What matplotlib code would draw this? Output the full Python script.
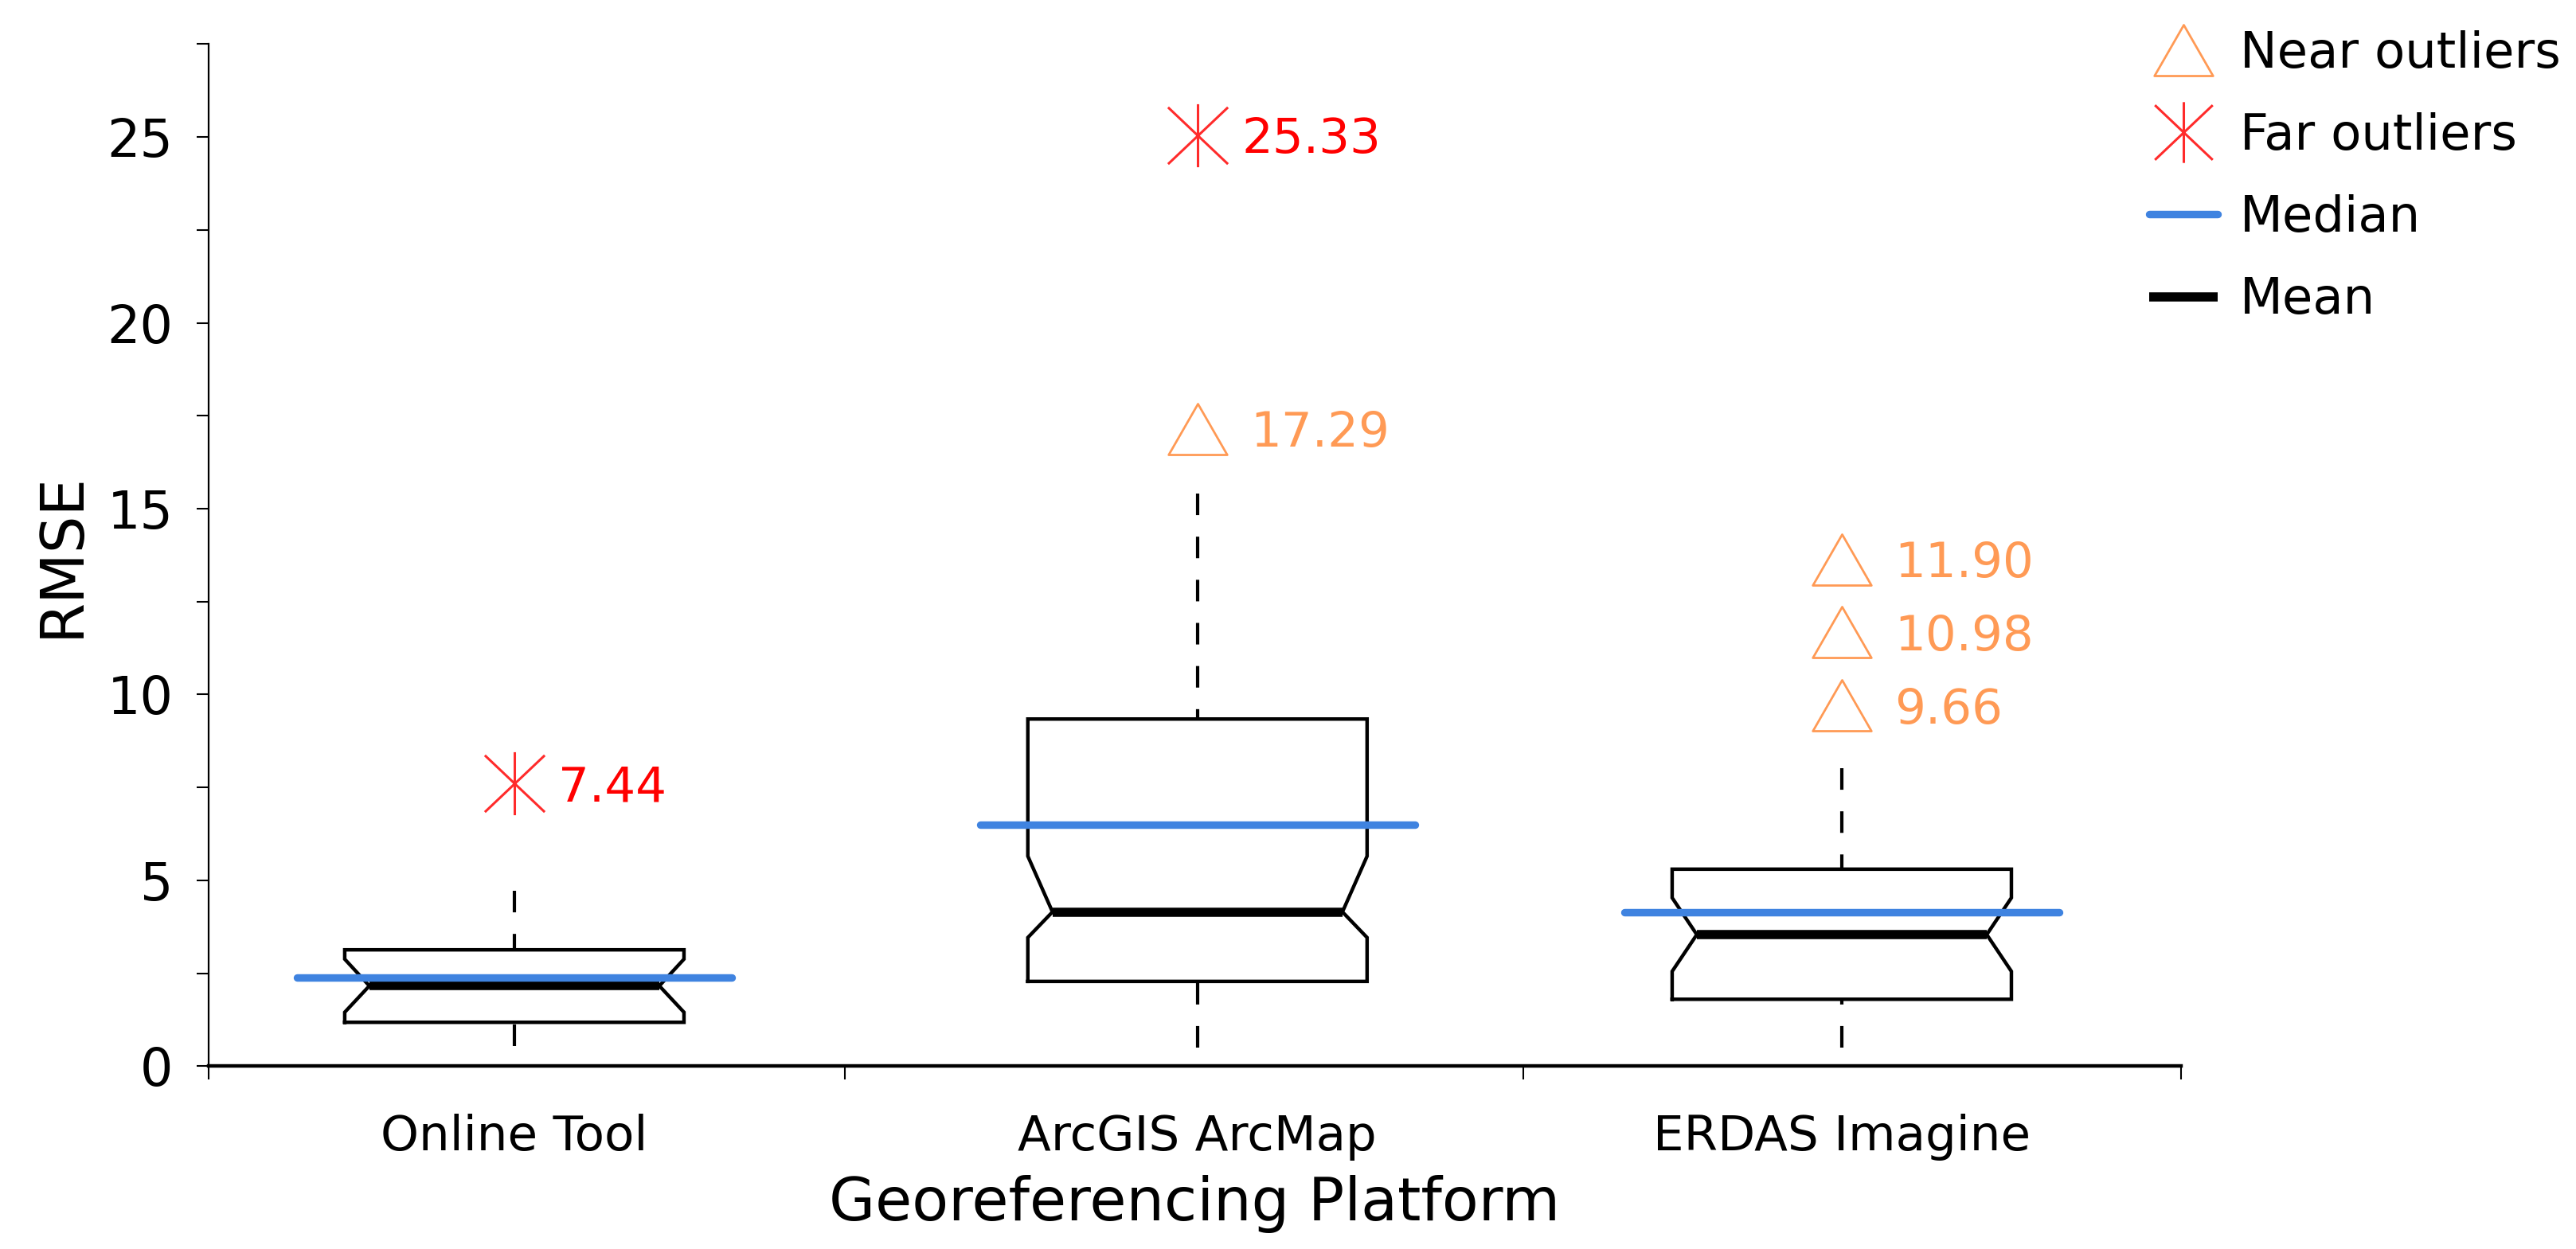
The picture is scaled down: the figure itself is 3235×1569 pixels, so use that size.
import matplotlib
matplotlib.use("Agg")
import matplotlib.pyplot as plt
from matplotlib.path import Path
from matplotlib.lines import Line2D
from matplotlib.ticker import MultipleLocator

# ---------------- data ----------------
categories = ["Online Tool", "ArcGIS ArcMap", "ERDAS Imagine"]
q1 = [1.18, 2.28, 1.80]
q3 = [3.13, 9.34, 5.30]
whisker_low = [0.54, 0.50, 0.50]
whisker_high = [4.71, 15.4, 8.02]
medians = [2.39, 6.49, 4.15]
means = [2.16, 4.15, 3.54]
notch_low = [1.45, 3.46, 2.55]
notch_high = [2.88, 5.65, 4.53]

# near outliers: category index, value, and the y position where the original figure shows it
near_cat = [1, 2, 2, 2]
near_val = [17.29, 9.66, 10.98, 11.90]
near_plot_y = [17.14, 9.70, 11.67, 13.63]
# far outliers
far_cat = [0, 1]
far_val = [7.44, 25.33]
far_plot_y = [7.60, 25.05]

legend_labels = ["Near outliers", "Far outliers", "Median", "Mean"]

# ---------------- style ----------------
W, H = 3235, 1569
DPI = 100
ORANGE = "#ff9a55"
RED_MARK = "#ff2b2b"
RED_TXT = "#ff0000"
BLUE = "#3f83e0"
plt.rcParams["font.family"] = ["DejaVu Sans"]

tri = Path([(-1, -0.87), (1, -0.87), (0, 0.87), (-1, -0.87)], closed=True)
ast = Path([(0, -1), (0, 1), (-0.95, -0.9), (0.95, 0.9), (-0.95, 0.9), (0.95, -0.9)],
           [Path.MOVETO, Path.LINETO, Path.MOVETO, Path.LINETO, Path.MOVETO, Path.LINETO])

fig = plt.figure(figsize=(W / DPI, H / DPI), dpi=DPI)
ax_left, ax_right, ax_bottom, ax_top = 262, 2739, 1339.3, 55.4
ax = fig.add_axes([ax_left / W, (H - ax_bottom) / H,
                   (ax_right - ax_left) / W, (ax_bottom - ax_top) / H])

# layout: category slot centres and separators (as in the original figure)
positions = [0.965, 2.004, 2.984]
separators = [0.5, 1.468, 2.5, 3.5]
half_w = 0.258
notch_w = 0.2205
med_half = 0.331

for i, pos in enumerate(positions):
    xs = [pos - half_w, pos + half_w, pos + half_w, pos + notch_w, pos + half_w,
          pos + half_w, pos - half_w, pos - half_w, pos - notch_w, pos - half_w, pos - half_w]
    ys = [q1[i], q1[i], notch_low[i], means[i], notch_high[i], q3[i], q3[i],
          notch_high[i], means[i], notch_low[i], q1[i]]
    ax.plot(xs, ys, color="black", lw=3.2, solid_joinstyle="miter", zorder=3)
    ax.plot([pos, pos], [whisker_high[i], q3[i]], color="black", lw=3.0,
            linestyle=(0, (6.5, 6.5)), dash_capstyle="butt", zorder=2)
    ax.plot([pos, pos], [whisker_low[i], q1[i]], color="black", lw=3.0,
            linestyle=(0, (6.5, 6.5)), dash_capstyle="butt", zorder=2)
    ax.plot([pos - notch_w, pos + notch_w], [means[i], means[i]], color="black",
            lw=8.3, solid_capstyle="butt", zorder=4)
    ax.plot([pos - med_half, pos + med_half], [medians[i], medians[i]], color=BLUE,
            lw=6.8, solid_capstyle="round", zorder=5)

# outliers
near_x = [positions[c] for c in near_cat]
ax.plot(near_x, near_plot_y, linestyle="none", marker=tri, ms=53, mfc="none",
        mec=ORANGE, mew=2.0, zorder=6)
for x, y, v in zip(near_x, near_plot_y, near_val):
    ax.annotate(f"{v:.2f}", (x, y), xytext=(48, -16), textcoords="offset points",
                ha="left", va="baseline", fontsize=44, color=ORANGE)

far_x = [positions[c] for c in far_cat]
ax.plot(far_x, far_plot_y, linestyle="none", marker=ast, ms=57, mfc="none",
        mec=RED_MARK, mew=2.2, zorder=6)
for x, y, v in zip(far_x, far_plot_y, far_val):
    ax.annotate(f"{v:.2f}", (x, y), xytext=(40, -16), textcoords="offset points",
                ha="left", va="baseline", fontsize=44, color=RED_TXT)

# axes
ax.set_xlim(separators[0], separators[-1])
ax.set_ylim(0, 27.5)
for s in ["top", "right"]:
    ax.spines[s].set_visible(False)
ax.spines["left"].set_linewidth(1.6)
ax.spines["bottom"].set_linewidth(3.2)

ax.yaxis.set_major_locator(MultipleLocator(5))
ax.yaxis.set_minor_locator(MultipleLocator(2.5))
ax.tick_params(axis="y", which="both", length=11, width=1.5, direction="out")
ax.tick_params(axis="y", which="major", labelsize=47, pad=21)

ax.set_xticks(positions)
ax.set_xticklabels(categories)
ax.set_xticks(separators, minor=True)
ax.tick_params(axis="x", which="major", length=0, labelsize=44, pad=43)
ax.tick_params(axis="x", which="minor", length=12, width=1.5, direction="out")

ax.set_ylabel("RMSE", fontsize=53, labelpad=14)
ax.set_xlabel("Georeferencing Platform", fontsize=54, labelpad=13)

# legend
handles = [
    Line2D([], [], linestyle="none", marker=tri, ms=53, mfc="none", mec=ORANGE, mew=2.0),
    Line2D([], [], linestyle="none", marker=ast, ms=55, mfc="none", mec=RED_MARK, mew=2.2),
    Line2D([], [], color=BLUE, lw=6.8, solid_capstyle="round"),
    Line2D([], [], color="black", lw=8.3, solid_capstyle="butt"),
]
fig.legend(handles, legend_labels, loc="upper left",
           bbox_to_anchor=(2699 / W, 1 - 38 / H), bbox_transform=fig.transFigure,
           frameon=False, fontsize=45, handlelength=1.376, handletextpad=0.45,
           labelspacing=0.69, borderpad=0, borderaxespad=0, numpoints=1)

fig.savefig("out.png", dpi=DPI)
